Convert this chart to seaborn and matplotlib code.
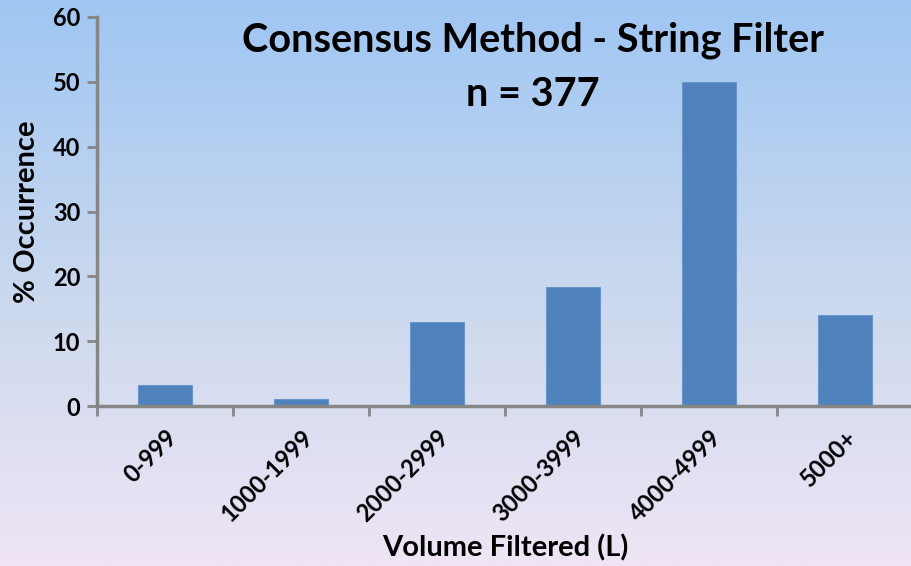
import matplotlib
matplotlib.use("Agg")
import matplotlib.pyplot as plt
import numpy as np
import pandas as pd
import seaborn as sns
from matplotlib.colors import LinearSegmentedColormap

#%% Data
categories = ['0-999', '1000-1999', '2000-2999', '3000-3999', '4000-4999', '5000+']
occurrence = [3.2, 1.1, 13.0, 18.3, 50.0, 14.1]
y_ticks = [0, 10, 20, 30, 40, 50, 60]

data = pd.DataFrame({'volume': categories, 'pct': occurrence})

#%% Figure
sns.set_style("white")
plt.rcParams['font.family'] = ['Lato', 'DejaVu Sans']
plt.rcParams['font.weight'] = 'bold'
plt.rcParams['text.color'] = 'black'
plt.rcParams['axes.labelcolor'] = 'black'
plt.rcParams['xtick.color'] = 'black'
plt.rcParams['ytick.color'] = 'black'

fig = plt.figure(figsize=(9.12, 5.66), dpi=100)

# gradient background (light blue -> lavender)
bg = fig.add_axes([0, 0, 1, 1], zorder=-10)
cmap = LinearSegmentedColormap.from_list('bg', ['#9fc6f3', '#c9d8ee', '#efe5f5'])
bg.imshow(np.linspace(0, 1, 256).reshape(-1, 1), aspect='auto', cmap=cmap,
          extent=[0, 1, 0, 1], origin='upper')
bg.axis('off')

ax = fig.add_axes([97 / 912, 160 / 566, 816 / 912, 389 / 566])
ax.patch.set_alpha(0)

sns.barplot(data=data, x='volume', y='pct', color='#4f81bd', width=0.4,
            edgecolor='#6a96cc', linewidth=0.8, saturation=1, ax=ax)

ax.set_xlim(-0.5, 5.5)
ax.set_ylim(0, 60)
ax.set_yticks(y_ticks)
ax.set_yticklabels([str(t) for t in y_ticks], fontsize=17, fontweight='bold')

# labels at category centres, tick marks at category boundaries
ax.set_xticks(range(len(categories)))
ax.set_xticklabels(categories, rotation=45, ha='right', rotation_mode='anchor',
                   fontsize=17, fontweight='bold')
ax.set_xticks(np.arange(-0.5, len(categories), 1), minor=True)
ax.tick_params(axis='x', which='major', bottom=True, length=0, pad=14)
ax.tick_params(axis='x', which='minor', bottom=True, length=7, width=2,
               color='#868686', direction='out')
ax.tick_params(axis='y', left=True, length=7, width=2, color='#868686',
               direction='out', pad=5)

for side in ['top', 'right']:
    ax.spines[side].set_visible(False)
for side in ['left', 'bottom']:
    ax.spines[side].set_color('#868686')
    ax.spines[side].set_linewidth(2.5)

ax.set_xlabel('Volume Filtered (L)', fontsize=21, fontweight='bold')
ax.xaxis.set_label_coords(0.501, -0.365)
ax.xaxis.label.set_va('center')
ax.set_ylabel('% Occurrence', fontsize=21, fontweight='bold', labelpad=9)

fig.text(533 / 912, 1 - 40 / 566, 'Consensus Method - String Filter',
         ha='center', va='center', fontsize=28.5, fontweight='bold')
fig.text(533 / 912, 1 - 94 / 566, 'n = 377',
         ha='center', va='center', fontsize=28.5, fontweight='bold')

fig.savefig('out.png', dpi=100)
